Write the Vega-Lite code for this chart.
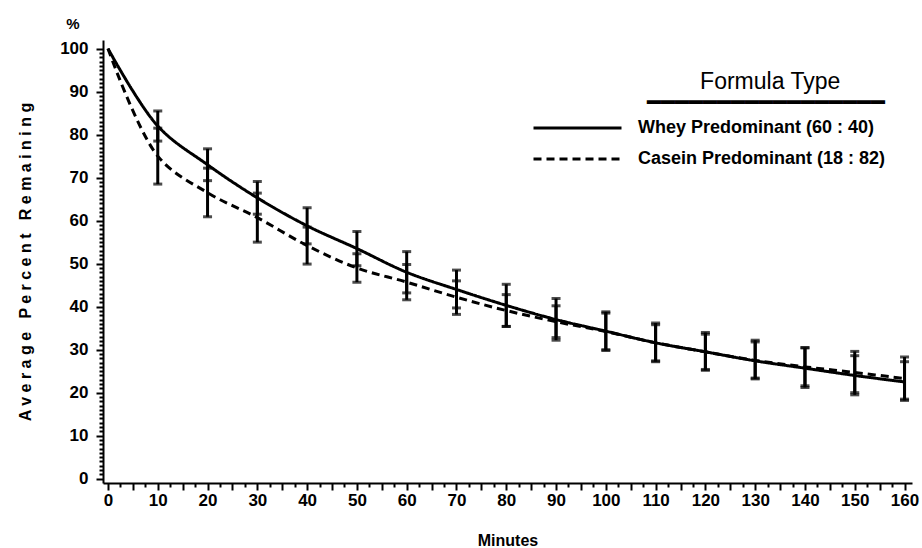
{
  "$schema": "https://vega.github.io/schema/vega-lite/v6.json",
  "width": 809,
  "height": 443,
  "autosize": {"type": "none"},
  "padding": {"left": 103, "top": 40, "right": 10, "bottom": 65},
  "background": "white",
  "title": {"text": "%", "anchor": "start", "frame": "group", "dx": -30, "offset": -4, "baseline": "alphabetic", "align": "center", "fontSize": 15, "fontWeight": "bold", "font": "Liberation Sans", "color": "black"},
  "config": {"view": {"stroke": null}, "font": "Liberation Sans"},
  "data": {"values": [
    {"minutes": 0, "formula": "Whey Predominant (60 : 40)", "mean": 100, "lo": null, "hi": null},
    {"minutes": 10, "formula": "Whey Predominant (60 : 40)", "mean": 82, "lo": 78.5, "hi": 85.5},
    {"minutes": 20, "formula": "Whey Predominant (60 : 40)", "mean": 73, "lo": 69.3, "hi": 76.7},
    {"minutes": 30, "formula": "Whey Predominant (60 : 40)", "mean": 65.3, "lo": 61.5, "hi": 69.1},
    {"minutes": 40, "formula": "Whey Predominant (60 : 40)", "mean": 58.8, "lo": 54.6, "hi": 63},
    {"minutes": 50, "formula": "Whey Predominant (60 : 40)", "mean": 53.5, "lo": 49.5, "hi": 57.5},
    {"minutes": 60, "formula": "Whey Predominant (60 : 40)", "mean": 48, "lo": 43.2, "hi": 52.8},
    {"minutes": 70, "formula": "Whey Predominant (60 : 40)", "mean": 44, "lo": 39.7, "hi": 48.5},
    {"minutes": 80, "formula": "Whey Predominant (60 : 40)", "mean": 40.3, "lo": 35.4, "hi": 45.2},
    {"minutes": 90, "formula": "Whey Predominant (60 : 40)", "mean": 37, "lo": 32.2, "hi": 41.9},
    {"minutes": 100, "formula": "Whey Predominant (60 : 40)", "mean": 34.3, "lo": 29.8, "hi": 38.8},
    {"minutes": 110, "formula": "Whey Predominant (60 : 40)", "mean": 31.6, "lo": 27.2, "hi": 36.2},
    {"minutes": 120, "formula": "Whey Predominant (60 : 40)", "mean": 29.5, "lo": 25.2, "hi": 34},
    {"minutes": 130, "formula": "Whey Predominant (60 : 40)", "mean": 27.4, "lo": 23.2, "hi": 32.2},
    {"minutes": 140, "formula": "Whey Predominant (60 : 40)", "mean": 25.7, "lo": 21.2, "hi": 30.4},
    {"minutes": 150, "formula": "Whey Predominant (60 : 40)", "mean": 24, "lo": 19.5, "hi": 28.6},
    {"minutes": 160, "formula": "Whey Predominant (60 : 40)", "mean": 22.5, "lo": 18.2, "hi": 27.2},
    {"minutes": 0, "formula": "Casein Predominant (18 : 82)", "mean": 100, "lo": null, "hi": null},
    {"minutes": 10, "formula": "Casein Predominant (18 : 82)", "mean": 75, "lo": 68.5, "hi": 81.5},
    {"minutes": 20, "formula": "Casein Predominant (18 : 82)", "mean": 66.5, "lo": 60.9, "hi": 72.2},
    {"minutes": 30, "formula": "Casein Predominant (18 : 82)", "mean": 60.7, "lo": 55, "hi": 66.4},
    {"minutes": 40, "formula": "Casein Predominant (18 : 82)", "mean": 54.2, "lo": 49.9, "hi": 58.5},
    {"minutes": 50, "formula": "Casein Predominant (18 : 82)", "mean": 49, "lo": 45.7, "hi": 52.3},
    {"minutes": 60, "formula": "Casein Predominant (18 : 82)", "mean": 45.7, "lo": 41.6, "hi": 49.8},
    {"minutes": 70, "formula": "Casein Predominant (18 : 82)", "mean": 42.2, "lo": 38.2, "hi": 46},
    {"minutes": 80, "formula": "Casein Predominant (18 : 82)", "mean": 39.1, "lo": 35.4, "hi": 42.8},
    {"minutes": 90, "formula": "Casein Predominant (18 : 82)", "mean": 36.5, "lo": 32.8, "hi": 40.2},
    {"minutes": 100, "formula": "Casein Predominant (18 : 82)", "mean": 34.2, "lo": 30, "hi": 38.5},
    {"minutes": 110, "formula": "Casein Predominant (18 : 82)", "mean": 31.6, "lo": 27.4, "hi": 35.8},
    {"minutes": 120, "formula": "Casein Predominant (18 : 82)", "mean": 29.5, "lo": 25.4, "hi": 33.6},
    {"minutes": 130, "formula": "Casein Predominant (18 : 82)", "mean": 27.5, "lo": 23.4, "hi": 31.8},
    {"minutes": 140, "formula": "Casein Predominant (18 : 82)", "mean": 26, "lo": 21.6, "hi": 30.5},
    {"minutes": 150, "formula": "Casein Predominant (18 : 82)", "mean": 24.7, "lo": 20, "hi": 29.6},
    {"minutes": 160, "formula": "Casein Predominant (18 : 82)", "mean": 23.3, "lo": 18.5, "hi": 28.3}
  ]},
  "layer": [
    {
      "mark": {"type": "line", "interpolate": "catmull-rom", "strokeWidth": 3, "color": "black"},
      "encoding": {
        "x": {"field": "minutes", "type": "quantitative", "scale": {"domain": [-1, 161.5], "nice": false, "zero": false},
          "axis": {"title": "Minutes", "values": [0,2.5,5,7.5,10,12.5,15,17.5,20,22.5,25,27.5,30,32.5,35,37.5,40,42.5,45,47.5,50,52.5,55,57.5,60,62.5,65,67.5,70,72.5,75,77.5,80,82.5,85,87.5,90,92.5,95,97.5,100,102.5,105,107.5,110,112.5,115,117.5,120,122.5,125,127.5,130,132.5,135,137.5,140,142.5,145,147.5,150,152.5,155,157.5,160],
            "labelExpr": "datum.value % 10 === 0 ? format(datum.value, 'd') : ''",
            "tickSize": {"condition": {"test": "datum.value % 5 === 0", "value": 7}, "value": 4},
            "labelFontSize": 17, "labelFontWeight": "bold", "labelColor": "black", "labelPadding": 2, "labelOverlap": false, "labelFlush": false,
            "domainColor": "black", "domainWidth": 2, "tickColor": "black", "tickWidth": 2, "grid": false,
            "titleFontSize": 16, "titleFontWeight": "bold", "titleColor": "black", "titlePadding": 24}},
        "y": {"field": "mean", "type": "quantitative", "scale": {"domain": [-1, 102], "nice": false, "zero": false},
          "axis": {"title": "A v e r a g e \u00a0 P e r c e n t \u00a0 R e m a i n i n g", "values": [0,1,2,3,4,5,6,7,8,9,10,11,12,13,14,15,16,17,18,19,20,21,22,23,24,25,26,27,28,29,30,31,32,33,34,35,36,37,38,39,40,41,42,43,44,45,46,47,48,49,50,51,52,53,54,55,56,57,58,59,60,61,62,63,64,65,66,67,68,69,70,71,72,73,74,75,76,77,78,79,80,81,82,83,84,85,86,87,88,89,90,91,92,93,94,95,96,97,98,99,100],
            "labelExpr": "datum.value % 10 === 0 ? format(datum.value, 'd') : ''",
            "tickSize": {"condition": {"test": "datum.value % 10 === 0", "value": 7}, "value": 4},
            "labelFontSize": 17, "labelFontWeight": "bold", "labelColor": "black", "labelPadding": 8, "labelOverlap": false, "labelFlush": false,
            "domainColor": "black", "domainWidth": 2, "tickColor": "black", "tickWidth": 2, "grid": false,
            "titleFontSize": 16, "titleFontWeight": "bold", "titleColor": "black", "titlePadding": 26}},
        "strokeDash": {"field": "formula", "type": "nominal",
          "scale": {"domain": ["Whey Predominant (60 : 40)", "Casein Predominant (18 : 82)"], "range": [[1, 0], [8, 5]]},
          "legend": {"title": ["Formula Type\u00a0\u00a0\u00a0\u00a0\u00a0\u00a0\u00a0\u200b", "━━━━━━━━━━━━━━━━━"],
            "orient": "none", "legendX": 429, "legendY": 31,
            "titleFontSize": 23, "titleFontWeight": "normal", "titleFont": "Liberation Sans", "titleColor": "black", "titleLimit": 1000,
            "titleAnchor": "end", "titleAlign": "right", "titleLineHeight": 21, "titlePadding": 4,
            "labelFontSize": 18, "labelFont": "Liberation Sans", "labelFontWeight": "bold", "labelColor": "black", "labelLimit": 400, "labelOffset": 15,
            "symbolType": "stroke", "symbolSize": 7744, "symbolStrokeWidth": 3, "symbolStrokeColor": "black",
            "clipHeight": 18, "rowPadding": 13}}
      }
    },
    {
      "transform": [{"filter": "datum.lo != null"}],
      "mark": {"type": "errorbar", "ticks": {"size": 9, "thickness": 3, "color": "black"}, "thickness": 3, "color": "black"},
      "encoding": {
        "x": {"field": "minutes", "type": "quantitative",
          "axis": {"title": "Minutes", "values": [0,2.5,5,7.5,10,12.5,15,17.5,20,22.5,25,27.5,30,32.5,35,37.5,40,42.5,45,47.5,50,52.5,55,57.5,60,62.5,65,67.5,70,72.5,75,77.5,80,82.5,85,87.5,90,92.5,95,97.5,100,102.5,105,107.5,110,112.5,115,117.5,120,122.5,125,127.5,130,132.5,135,137.5,140,142.5,145,147.5,150,152.5,155,157.5,160],
            "labelExpr": "datum.value % 10 === 0 ? format(datum.value, 'd') : ''",
            "tickSize": {"condition": {"test": "datum.value % 5 === 0", "value": 7}, "value": 4},
            "labelFontSize": 17, "labelFontWeight": "bold", "labelColor": "black", "labelPadding": 2, "labelOverlap": false, "labelFlush": false,
            "domainColor": "black", "domainWidth": 2, "tickColor": "black", "tickWidth": 2, "grid": false,
            "titleFontSize": 16, "titleFontWeight": "bold", "titleColor": "black", "titlePadding": 24}},
        "y": {"field": "lo", "type": "quantitative",
          "axis": {"title": "A v e r a g e \u00a0 P e r c e n t \u00a0 R e m a i n i n g", "values": [0,1,2,3,4,5,6,7,8,9,10,11,12,13,14,15,16,17,18,19,20,21,22,23,24,25,26,27,28,29,30,31,32,33,34,35,36,37,38,39,40,41,42,43,44,45,46,47,48,49,50,51,52,53,54,55,56,57,58,59,60,61,62,63,64,65,66,67,68,69,70,71,72,73,74,75,76,77,78,79,80,81,82,83,84,85,86,87,88,89,90,91,92,93,94,95,96,97,98,99,100],
            "labelExpr": "datum.value % 10 === 0 ? format(datum.value, 'd') : ''",
            "tickSize": {"condition": {"test": "datum.value % 10 === 0", "value": 7}, "value": 4},
            "labelFontSize": 17, "labelFontWeight": "bold", "labelColor": "black", "labelPadding": 8, "labelOverlap": false, "labelFlush": false,
            "domainColor": "black", "domainWidth": 2, "tickColor": "black", "tickWidth": 2, "grid": false,
            "titleFontSize": 16, "titleFontWeight": "bold", "titleColor": "black", "titlePadding": 26}},
        "y2": {"field": "hi"}
      }
    }
  ]
}
